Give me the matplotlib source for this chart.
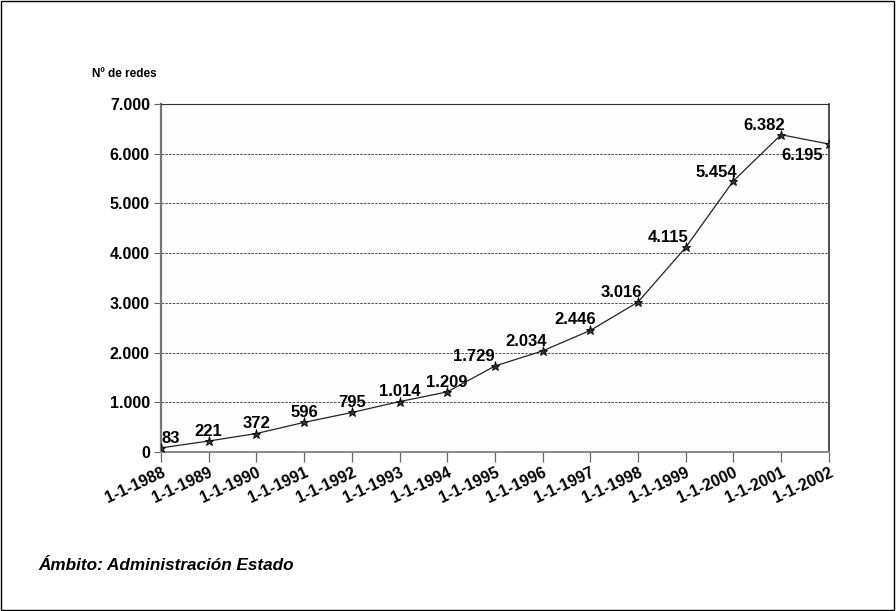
import matplotlib
matplotlib.use('Agg')
import matplotlib.pyplot as plt
from matplotlib.patches import Rectangle

fechas = ['1-1-1988', '1-1-1989', '1-1-1990', '1-1-1991', '1-1-1992', '1-1-1993',
          '1-1-1994', '1-1-1995', '1-1-1996', '1-1-1997', '1-1-1998', '1-1-1999',
          '1-1-2000', '1-1-2001', '1-1-2002']
redes = [83, 221, 372, 596, 795, 1014, 1209, 1729, 2034, 2446, 3016, 4115, 5454, 6382, 6195]
etiquetas = ['83', '221', '372', '596', '795', '1.014', '1.209', '1.729', '2.034',
             '2.446', '3.016', '4.115', '5.454', '6.382', '6.195']
yticks = [0, 1000, 2000, 3000, 4000, 5000, 6000, 7000]
ytick_labels = ['0', '1.000', '2.000', '3.000', '4.000', '5.000', '6.000', '7.000']

plt.rcParams['font.family'] = ['Liberation Sans', 'DejaVu Sans']

fig = plt.figure(figsize=(8.96, 6.11), dpi=100)
fig.patches.append(Rectangle((0.001, 0.001), 0.997, 0.997, transform=fig.transFigure,
                             fill=False, edgecolor='black', linewidth=1))
ax = fig.add_axes([0.1797, 0.2602, 0.7453, 0.5696])
ax.set_facecolor('#fdfdfd')

x = list(range(len(fechas)))
ax.plot(x, redes, color='#222222', linewidth=0.9, marker='*', markersize=6.5,
        markerfacecolor='#333333', markeredgecolor='black', markeredgewidth=0.6, zorder=3)

# label offsets in points (label centre relative to point)
offsets = {0: (7, 6.5), 6: (0, 7), 7: (-15, 7), 8: (-12, 7), 9: (-11, 8), 10: (-12, 7),
           11: (-13, 7), 12: (-12, 6), 13: (-12, 6.5), 14: (-19, -8)}
for i, (v, t) in enumerate(zip(redes, etiquetas)):
    dx, dy = offsets.get(i, (0, 7))
    ax.annotate(t, (i, v), xytext=(dx, dy), textcoords='offset points',
                ha='center', va='center', fontsize=12, fontweight='bold', zorder=4)

ax.set_xlim(0, len(fechas) - 1)
ax.set_ylim(0, 7000)
ax.set_yticks(yticks)
ax.set_yticklabels(ytick_labels, fontsize=11.5, fontweight='bold')
ax.set_xticks(x)
ax.set_xticklabels(fechas, rotation=25, ha='right', rotation_mode='anchor',
                   fontsize=11.5, fontweight='bold')
ax.tick_params(axis='y', length=5, color='#666666', width=0.8, pad=3)
ax.tick_params(axis='x', length=7, color='#666666', width=0.9, pad=2)

for y in yticks[1:-1]:
    ax.axhline(y, color='#333333', linestyle=(0, (3, 1.5)), linewidth=0.6, zorder=1)

ax.spines['left'].set_color('#777777')
ax.spines['left'].set_linewidth(1.6)
ax.spines['bottom'].set_color('#888888')
ax.spines['bottom'].set_linewidth(1.4)
ax.spines['bottom'].set_linestyle((0, (2, 1)))
ax.spines['top'].set_color('#333333')
ax.spines['right'].set_color('#333333')
ax.spines['right'].set_linewidth(1.2)

fig.text(92 / 896, 1 - 74 / 611, 'Nº de redes', fontsize=8.5, fontweight='bold',
         ha='left', va='center')
fig.text(38 / 896, 1 - 565 / 611, 'Ámbito: Administración Estado', fontsize=12.3,
         fontweight='bold', fontstyle='italic', ha='left', va='center')

fig.savefig('out.png', dpi=100)
